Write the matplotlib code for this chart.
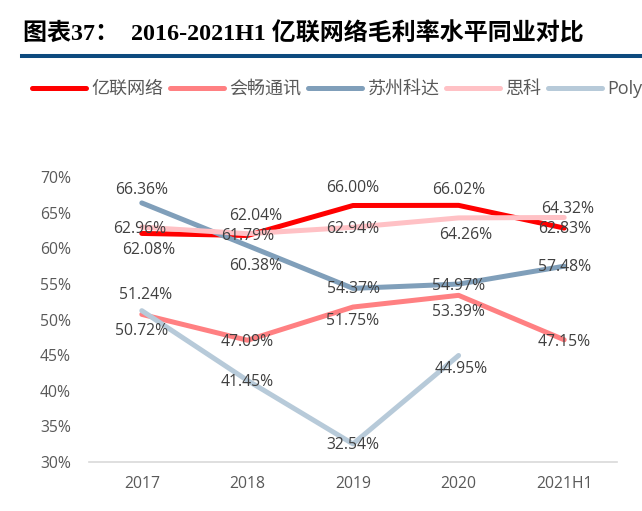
import numpy as np
import matplotlib.pyplot as plt
from matplotlib.lines import Line2D

plt.rcParams['font.family'] = ['Open Sans', 'Noto Sans CJK SC', 'DejaVu Sans']

# data (gross margin, %)
years = ['2017', '2018', '2019', '2020', '2021H1']
yealink = [62.08, 61.79, 66.00, 66.02, 62.83]
hcs = [50.72, 47.09, 51.75, 53.39, 47.15]
kedacom = [66.36, 60.38, 54.37, 54.97, 57.48]
cisco = [62.96, 62.04, 62.94, 64.26, 64.32]
poly = [51.24, 41.45, 32.54, 44.95]

names = ['亿联网络', '会畅通讯', '苏州科达', '思科', 'Poly']
series = [yealink, hcs, kedacom, cisco, poly]
colors = ['#FF0000', '#FF8082', '#809FBA', '#FFC1C5', '#B7CAD9']

# label offsets in pixels (dx, dy down) per point
offsets = [
    [(7, 17), (0, 1), (0, -18), (0, -15), (0, 1)],
    [(0, 17), (0, 2), (0, 14), (0, 17), (0, 2)],
    [(0, -13), (8, 20), (0, 1), (0, 2), (0, 1)],
    [(-2, 2), (8, -18), (0, 2), (7, 17), (3, -8)],
    [(4, -16), (0, 2), (0, 1), (3, 14)],
]

fig = plt.figure(figsize=(6.42, 5.11), dpi=100)
ax = fig.add_axes([89 / 642, 1 - 462 / 511, 528 / 642, 285 / 511])

x = np.arange(len(years))
for name, vals, c, offs in zip(names, series, colors, offsets):
    xs = x[:len(vals)]
    ax.plot(xs, vals, color=c, lw=3.6, label=name, solid_capstyle='round')
    for xi, v, (dx, dy) in zip(xs, vals, offs):
        ax.annotate(f'{v:.2f}%', (xi, v), xytext=(dx, -dy), textcoords='offset pixels',
                    ha='center', va='center', fontsize=11.3, color='#404040', zorder=10)

ax.set_xlim(-0.5, len(years) - 0.5)
ax.set_ylim(30, 70)
ax.set_xticks(x)
ax.set_xticklabels(years)
ax.set_yticks(np.arange(30, 71, 5))
ax.set_yticklabels([f'{t}%' for t in range(30, 71, 5)])
ax.tick_params(axis='both', length=0, labelsize=11.3, colors='#595959')
ax.tick_params(axis='x', pad=10)
ax.tick_params(axis='y', pad=13)
for s in ['top', 'right', 'left']:
    ax.spines[s].set_visible(False)
ax.spines['bottom'].set_color('#D9D9D9')
ax.spines['bottom'].set_linewidth(1.2)

# legend
leg = fig.legend(loc='center left', bbox_to_anchor=(32 / 642, 1 - 89 / 511), ncol=5,
                 frameon=False, fontsize=13, handlelength=3.0, handletextpad=0.3,
                 columnspacing=0.35, borderaxespad=0, borderpad=0)
for t in leg.get_texts():
    t.set_color('#595959')

# title and rule
fig.text(23 / 642, 1 - 34 / 511, '图表37：  2016-2021H1 亿联网络毛利率水平同业对比',
         family=['Liberation Serif', 'Noto Sans CJK SC'], fontweight='bold',
         fontsize=17.3, ha='left', va='center', color='#000000')
fig.add_artist(Line2D([22 / 642, 1], [1 - 56 / 511, 1 - 56 / 511],
                      transform=fig.transFigure, color='#0D4A7E', lw=2.9))

fig.savefig('out.png', dpi=100)
